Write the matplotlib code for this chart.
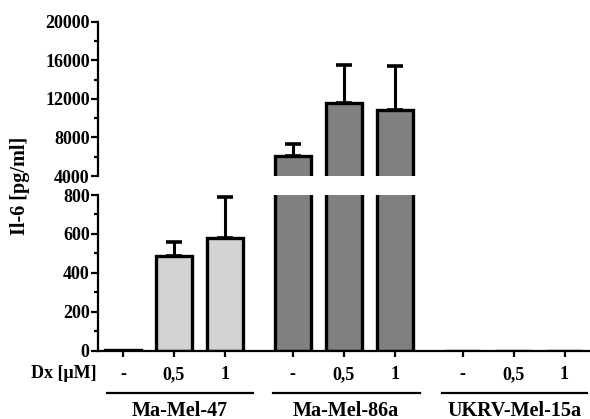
import matplotlib
matplotlib.use("Agg")
import matplotlib.pyplot as plt
import numpy as np
from matplotlib.transforms import blended_transform_factory
from matplotlib.ticker import MultipleLocator

# ---- data ----
groups = ['Ma-Mel-47', 'Ma-Mel-86a', 'UKRV-Mel-15a']
dx_labels = ['-', '0,5', '1']
means_47 = [5, 485, 578]
means_86a = [6100, 11540, 10850]
means_15a = [0, 0, 0]
err_47 = [0, 71, 214]
err_86a = [1190, 3975, 4555]
err_15a = [0, 0, 0]
group_colors = ['#d3d3d3', '#808080', '#808080']

means = [means_47, means_86a, means_15a]
errs = [err_47, err_86a, err_15a]

plt.rcParams['font.family'] = ['Liberation Serif', 'DejaVu Serif']
plt.rcParams['font.weight'] = 'bold'
FS = 13
FS_BIG = 14.5

W, H = 590, 419
fig = plt.figure(figsize=(W / 100, H / 100), dpi=100)

left = 98 / W
width = 1.0 - left
ax_up = fig.add_axes([left, 1 - 176 / H, width, (176 - 21.7) / H])
ax_lo = fig.add_axes([left, 1 - 350.7 / H, width, (350.7 - 195) / H])

gap = 3.33
positions = []
for g in range(len(groups)):
    for i in range(len(dx_labels)):
        positions.append(g * gap + i)
positions = np.array(positions)
vals = np.array([v for grp in means for v in grp], dtype=float)
ers = np.array([e for grp in errs for e in grp], dtype=float)
cols = [group_colors[g] for g in range(len(groups)) for _ in dx_labels]

for ax in (ax_up, ax_lo):
    ax.bar(positions, vals, width=0.7, color=cols, edgecolor='black', linewidth=2.4, zorder=2)
    m = ers > 0
    ax.errorbar(positions[m], vals[m], yerr=[np.zeros(m.sum()), ers[m]], fmt='none',
                ecolor='black', elinewidth=2.2, capsize=6, capthick=2.6, zorder=1)
    ax.set_xlim(-0.49, 9.16)
    ax.spines['top'].set_visible(False)
    ax.spines['right'].set_visible(False)
    ax.spines['left'].set_linewidth(1.6)
    ax.spines['bottom'].set_linewidth(1.6)
    ax.tick_params(axis='y', which='major', length=5, width=1.6, pad=1, labelsize=FS)
    ax.tick_params(axis='y', which='minor', length=3, width=1.6)

ax_up.set_ylim(4000, 20000)
ax_up.set_yticks([4000, 8000, 12000, 16000, 20000])
ax_up.yaxis.set_minor_locator(MultipleLocator(2000))
ax_up.spines['bottom'].set_visible(False)
ax_up.set_xticks([])

ax_lo.set_ylim(0, 800)
ax_lo.set_yticks([0, 200, 400, 600, 800])
ax_lo.yaxis.set_minor_locator(MultipleLocator(100))
ax_lo.set_xticks(positions)
ax_lo.set_xticklabels(dx_labels * len(groups), fontsize=FS, fontweight='bold')
ax_lo.tick_params(axis='x', length=4, width=1.6, pad=7)

for ax in (ax_up, ax_lo):
    for lab in ax.get_yticklabels():
        lab.set_fontweight('bold')
        lab.set_fontsize(FS)

# y label
fig.text(20 / W, 1 - 186 / H, 'Il-6 [pg/ml]', rotation=90, ha='center', va='center',
         fontsize=FS_BIG, fontweight='bold')
# Dx label
fig.text(97 / W, 1 - 377.5 / H, 'Dx [\u03bcM]', ha='right', va='baseline', fontsize=FS,
         fontweight='bold')

# group lines and labels
tr = blended_transform_factory(ax_lo.transData, fig.transFigure)
line_spans = [(-0.31, 2.55), (2.94, 5.82), (6.25, 9.1)]
for g, name in enumerate(groups):
    x0, x1 = line_spans[g]
    fig.add_artist(plt.Line2D([x0, x1], [1 - 392.7 / H] * 2, transform=tr,
                              color='black', linewidth=1.6))
    fig.text((x0 + x1) / 2, 1 - 415.5 / H, name, transform=tr, ha='center', va='baseline',
             fontsize=FS_BIG, fontweight='bold')

fig.savefig('out.png', dpi=100)
